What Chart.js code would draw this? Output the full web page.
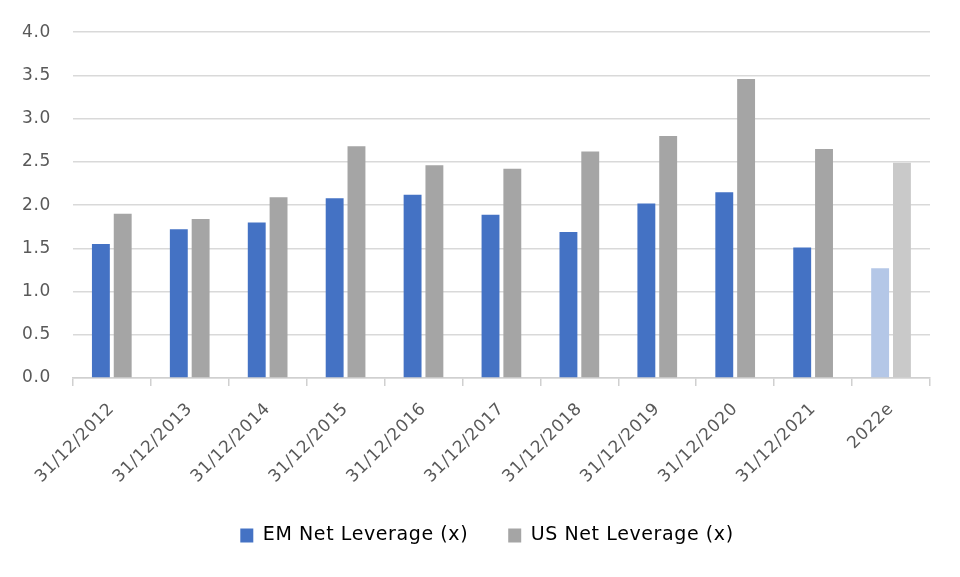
<!DOCTYPE html>
<html>
<head>
<meta charset="utf-8">
<script src="https://cdn.jsdelivr.net/npm/chart.js@4"></script>
<style>
html,body{margin:0;padding:0;background:#fff;}
#wrap{width:960px;height:577px;}
</style>
</head>
<body>
<div id="wrap"><canvas id="c" width="960" height="577"></canvas></div>
<script>
const categories = ["31/12/2012","31/12/2013","31/12/2014","31/12/2015","31/12/2016","31/12/2017","31/12/2018","31/12/2019","31/12/2020","31/12/2021","2022e"];
const emValues = [1.55,1.72,1.80,2.08,2.12,1.89,1.69,2.02,2.15,1.51,1.27];
const usValues = [1.90,1.84,2.09,2.68,2.46,2.42,2.62,2.80,3.46,2.65,2.49];
const seriesNames = ["EM Net Leverage (x)","US Net Leverage (x)"];

const emColors = categories.map(c => c === "2022e" ? "#B4C7E7" : "#4472C4");
const usColors = categories.map(c => c === "2022e" ? "#C9C9C9" : "#A5A5A5");

Chart.defaults.font.family = "'DejaVu Sans', sans-serif";
Chart.defaults.color = "#595959";

const spacing = {
  id: "spacing",
  beforeUpdate(chart) { chart.ctx.letterSpacing = "0.6px"; },
  beforeDraw(chart) { chart.ctx.letterSpacing = "0.6px"; },
  afterLayout(chart) {
    if (chart.legend) { chart.legend.left += 22; chart.legend.right += 22; }
  }
};

new Chart(document.getElementById("c"), {
  type: "bar",
  data: {
    labels: categories,
    datasets: [
      {label: seriesNames[0], data: emValues, backgroundColor: emColors, categoryPercentage: 0.56, barPercentage: 0.82},
      {label: seriesNames[1], data: usValues, backgroundColor: usColors, categoryPercentage: 0.56, barPercentage: 0.82}
    ]
  },
  plugins: [spacing],
  options: {
    responsive: false,
    animation: false,
    layout: {padding: {left: 0, right: 30, top: 12, bottom: 22}},
    plugins: {
      tooltip: {enabled: false},
      legend: {
        position: "bottom",
        labels: {
          boxWidth: 13, boxHeight: 14, padding: 40,
          font: {size: 19},
          color: "#595959",
          generateLabels: (chart) => chart.data.datasets.map((d, i) => ({
            text: d.label,
            fillStyle: i === 0 ? "#4472C4" : "#A5A5A5",
            strokeStyle: "transparent",
            lineWidth: 0,
            datasetIndex: i
          }))
        }
      }
    },
    scales: {
      x: {
        grid: {drawOnChartArea: false, drawTicks: true, tickLength: 8, offset: true, color: "#d0d0d0", lineWidth: 1.5},
        border: {display: true, color: "#d0d0d0", width: 1.5},
        ticks: {maxRotation: 45, minRotation: 45, font: {size: 17}, color: "#595959", padding: 13},
        afterFit(scale) { scale.height -= 14; }
      },
      y: {
        min: 0, max: 4,
        ticks: {stepSize: 0.5, callback: v => v.toFixed(1), font: {size: 17}, color: "#595959", padding: 22},
        grid: {drawTicks: false, color: "#d9d9d9", lineWidth: 1.5},
        border: {display: false}
      }
    }
  }
});
</script>
</body>
</html>
